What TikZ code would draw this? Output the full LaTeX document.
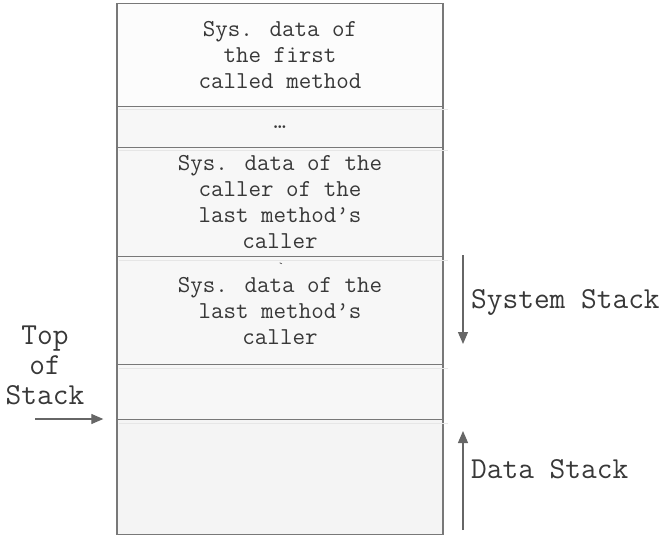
\documentclass[tikz,border=0pt]{standalone}
\usetikzlibrary{arrows.meta}

\definecolor{edge}{HTML}{787878}
\definecolor{ink}{HTML}{383838}
\definecolor{arrowgray}{HTML}{666666}
\definecolor{cellA}{HTML}{FCFCFC}
\definecolor{cellB}{HTML}{F7F7F7}
\definecolor{cellC}{HTML}{F4F4F4}
\definecolor{shade}{HTML}{E6E6E6}

\newcommand{\boxfont}{\ttfamily\fontsize{24.3}{26}\selectfont}
\newcommand{\sidefont}{\ttfamily\fontsize{30.5}{30}\selectfont}

\tikzset{
  cell/.style={draw=edge, line width=1.4pt, minimum width=326pt, inner sep=0pt,
               align=center, text=ink, font=\boxfont, anchor=north},
  sidelabel/.style={text=ink, font=\sidefont, inner sep=0pt},
  growth/.style={draw=arrowgray, line width=1.2pt,
                 -{Triangle[length=12pt,width=10pt]}},
  ghostline/.style={draw=shade, line width=1pt}
}

\begin{document}
\begin{tikzpicture}[x=1pt,y=-1pt]
\useasboundingbox (0,0) rectangle (663,537);

% stack frames, top to bottom
\node[cell, fill=cellA, minimum height=103pt] (c1) at (280,3)
  {Sys. data of\\the first\\called method};
\node[cell, fill=cellB, minimum height=41pt] (c2) at (280,106) {…};
\node[cell, fill=cellB, minimum height=109pt] (c3) at (280,147)
  {Sys. data of the\\caller of the\\last method’s\\caller};
\node[cell, fill=cellB, minimum height=108pt, text depth=0pt] (c4) at (280,256)
  {Sys. data of the\\last method’s\\caller};
\node[cell, fill=cellB, minimum height=55pt] (c5) at (280,364) {};
\node[cell, fill=cellC, minimum height=115pt] (c6) at (280,419) {};

% faint shadow lines under each divider
\foreach \n in {c2,c3,c4,c5,c6}
  \draw[ghostline] ([xshift=3pt,yshift=-4pt]\n.north west) -- ([xshift=4pt,yshift=-4pt]\n.north east);

% small stray mark
\node[text=ink, font=\ttfamily\fontsize{12}{12}\selectfont, inner sep=0pt] (tick) at (281,267) {`};

% top of stack pointer
\node[sidelabel, align=center] (tos) at (45,365) {Top\\of\\Stack};
\coordinate (tosA) at (35,419);
\draw[growth] (tosA) -- ([xshift=-13pt]c6.north west);

% growth directions
\coordinate (sysA) at (463,255);
\coordinate (sysB) at (463,344);
\draw[growth] (sysA) -- (sysB);
\node[sidelabel, anchor=base west] (sys) at (471,308) {System Stack};

\coordinate (datA) at (463,530);
\coordinate (datB) at (463,431);
\draw[growth] (datA) -- (datB);
\node[sidelabel, anchor=base west] (dat) at (471,478) {Data Stack};
\end{tikzpicture}
\end{document}
